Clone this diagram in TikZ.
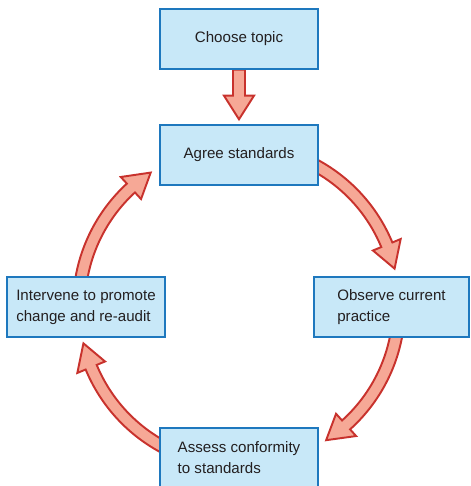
\documentclass[tikz,border=0pt]{standalone}
\usepackage{fontspec}
\setmainfont{Liberation Sans}
\usetikzlibrary{calc,backgrounds}

\definecolor{boxfill}{RGB}{200,232,248}
\definecolor{boxline}{RGB}{30,120,190}
\definecolor{arrowfill}{RGB}{246,168,150}
\definecolor{arrowline}{RGB}{200,50,45}
\definecolor{textgray}{RGB}{35,31,32}

\tikzset{
  stagebox/.style={draw=boxline, fill=boxfill, line width=0.8pt, minimum width=3.16cm,
    minimum height=1.2cm, align=left, text=textgray, font=\fontsize{8.6}{12}\selectfont},
  fatarrow/.style={draw=arrowline, fill=arrowfill, line width=1.1pt, line join=miter}
}

% curved arrow round the hub, from angle #1 to tip at angle #2
\newcommand{\cyclearrow}[2]{%
  \draw[fatarrow] ($(hub)+(#1:166)$) arc[start angle=#1, end angle=#2+9, radius=166]
    -- ($(hub)+(#2+9:175)$) -- ($(hub)+(#2:160)$) -- ($(hub)+(#2+9:145)$)
    -- ($(hub)+(#2+9:154)$) arc[start angle=#2+9, end angle=#1, radius=154] -- cycle;}

\begin{document}
\begin{tikzpicture}[x=0.02cm, y=0.02cm]
    \useasboundingbox (0,0) rectangle (470,486);
    \coordinate (hub) at (239,180);

    \node[stagebox] (topic) at (239,447) {Choose topic};
    \node[stagebox] (agree) at (239,331) {Agree standards};
    \node[stagebox, minimum width=3.1cm] (observe) at (391.5,179) {Observe current\\practice};
    \node[stagebox] (assess) at (239,28) {Assess conformity\\to standards};
    \node[stagebox] (intervene) at (86,179) {Intervene to promote\\change and re-audit};

    % arrows behind the boxes
    \begin{scope}[on background layer]
      \draw[fatarrow] ($(topic.south)+(-6,0)$) -- ($(topic.south)+(-6,-26)$)
        -- ($(topic.south)+(-15,-26)$) -- ($(agree.north)+(0,5)$)
        -- ($(topic.south)+(15,-26)$) -- ($(topic.south)+(6,-26)$)
        -- ($(topic.south)+(6,0)$) -- cycle;
      \cyclearrow{63}{13.5}
      \cyclearrow{-8}{-57}
      \cyclearrow{-117}{-166.5}
      \cyclearrow{172}{123.5}
    \end{scope}
  \end{tikzpicture}
\end{document}
